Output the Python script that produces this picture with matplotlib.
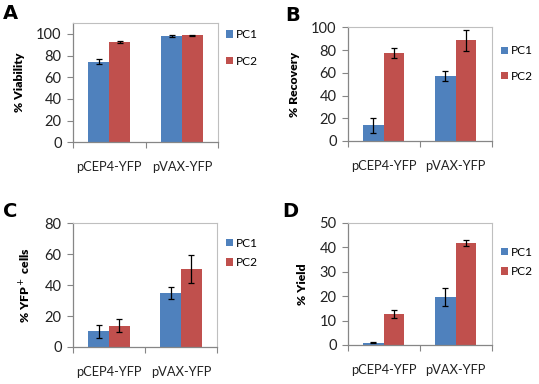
import matplotlib
matplotlib.use("Agg")
import matplotlib.pyplot as plt
import numpy as np

categories = ["pCEP4-YFP", "pVAX-YFP"]
series = ["PC1", "PC2"]

viab_pc1 = [74.4, 98.4]
viab_pc2 = [92.3, 99.0]
viab_err1 = [2.2, 0.8]
viab_err2 = [1.0, 0.5]

rec_pc1 = [13.8, 57.2]
rec_pc2 = [77.7, 88.6]
rec_err1 = [6.6, 4.7]
rec_err2 = [4.5, 9.2]

yfp_pc1 = [10.2, 35.2]
yfp_pc2 = [13.8, 50.4]
yfp_err1 = [4.1, 3.9]
yfp_err2 = [4.4, 9.1]

yield_pc1 = [0.95, 19.7]
yield_pc2 = [12.8, 41.7]
yield_err1 = [0.2, 3.6]
yield_err2 = [1.6, 1.1]

plt.rcParams['font.family'] = ['Lato', 'DejaVu Sans']

W, H = 539, 384
fig = plt.figure(figsize=(W / 100, H / 100), dpi=100)

BLUE = "#4F81BD"
RED = "#C0504D"
AXC = "#868686"


def px_axes(left, right, top, bottom):
    return fig.add_axes([left / W, 1 - bottom / H, (right - left) / W, (bottom - top) / H])


panels = [
    dict(letter="A", box=(72.7, 218.3, 22.7, 142.3), ylim=(0, 110.4), yticks=[0, 20, 40, 60, 80, 100],
         ylabel="% Viability", d1=viab_pc1, d2=viab_pc2, e1=viab_err1, e2=viab_err2,
         leg=(226, 48), lsp=1.3, letter_xy=(3, 19)),
    dict(letter="B", box=(347.7, 491.7, 27.3, 141.0), ylim=(0, 100), yticks=[0, 20, 40, 60, 80, 100],
         ylabel="% Recovery", d1=rec_pc1, d2=rec_pc2, e1=rec_err1, e2=rec_err2,
         leg=(501, 63.5), lsp=1.2, letter_xy=(285, 21)),
    dict(letter="C", box=(72.7, 217.3, 223.3, 347.0), ylim=(0, 80), yticks=[0, 20, 40, 60, 80],
         ylabel="% YFP$^+$ cells", d1=yfp_pc1, d2=yfp_pc2, e1=yfp_err1, e2=yfp_err2,
         leg=(226, 253), lsp=0.72, letter_xy=(3, 217)),
    dict(letter="D", box=(347.7, 491.7, 222.7, 345.0), ylim=(0, 50), yticks=[0, 10, 20, 30, 40, 50],
         ylabel="% Yield", d1=yield_pc1, d2=yield_pc2, e1=yield_err1, e2=yield_err2,
         leg=(501, 262), lsp=0.72, letter_xy=(282, 217)),
]

x = np.arange(len(categories))
bw = 1 / 3.5

for p in panels:
    ax = px_axes(*p["box"])
    b1 = ax.bar(x - bw / 2, p["d1"], bw, color=BLUE, yerr=p["e1"], capsize=2.5,
                error_kw=dict(elinewidth=0.9, capthick=0.9, ecolor="black"), zorder=2)
    b2 = ax.bar(x + bw / 2, p["d2"], bw, color=RED, yerr=p["e2"], capsize=2.5,
                error_kw=dict(elinewidth=0.9, capthick=0.9, ecolor="black"), zorder=2)
    ax.set_xlim(-0.5, len(categories) - 0.5)
    ax.set_ylim(*p["ylim"])
    ax.set_yticks(p["yticks"])
    ax.set_xticks(x)
    ax.set_xticklabels(categories, fontsize=9.3)
    ax.set_xticks(np.arange(len(categories) + 1) - 0.5, minor=True)
    ax.tick_params(axis="x", which="major", length=0, pad=13.5, colors="#222222")
    ax.tick_params(axis="x", which="minor", length=4, width=0.8, color=AXC)
    ax.tick_params(axis="y", length=4, width=0.8, color=AXC, pad=4, labelsize=10.5, labelcolor="#222222")
    for s in ["left", "bottom"]:
        ax.spines[s].set_color(AXC)
        ax.spines[s].set_linewidth(0.9)
    for s in ["top", "right"]:
        ax.spines[s].set_color("#BFBFBF")
        ax.spines[s].set_linewidth(0.8)
    ax.set_ylabel(p["ylabel"], fontsize=8.8, fontweight="heavy", labelpad=8)
    ax.legend([b1, b2], series, loc="center left", bbox_to_anchor=(p["leg"][0] / W, 1 - p["leg"][1] / H),
              bbox_transform=fig.transFigure, frameon=False, fontsize=8.6,
              handlelength=0.55, handleheight=0.55, handletextpad=0.3, labelspacing=p["lsp"], borderpad=0,
              borderaxespad=0)
    fig.text(p["letter_xy"][0] / W, 1 - p["letter_xy"][1] / H, p["letter"], fontsize=14, fontweight="bold",
             family="DejaVu Sans")

fig.savefig("out.png", dpi=100)
